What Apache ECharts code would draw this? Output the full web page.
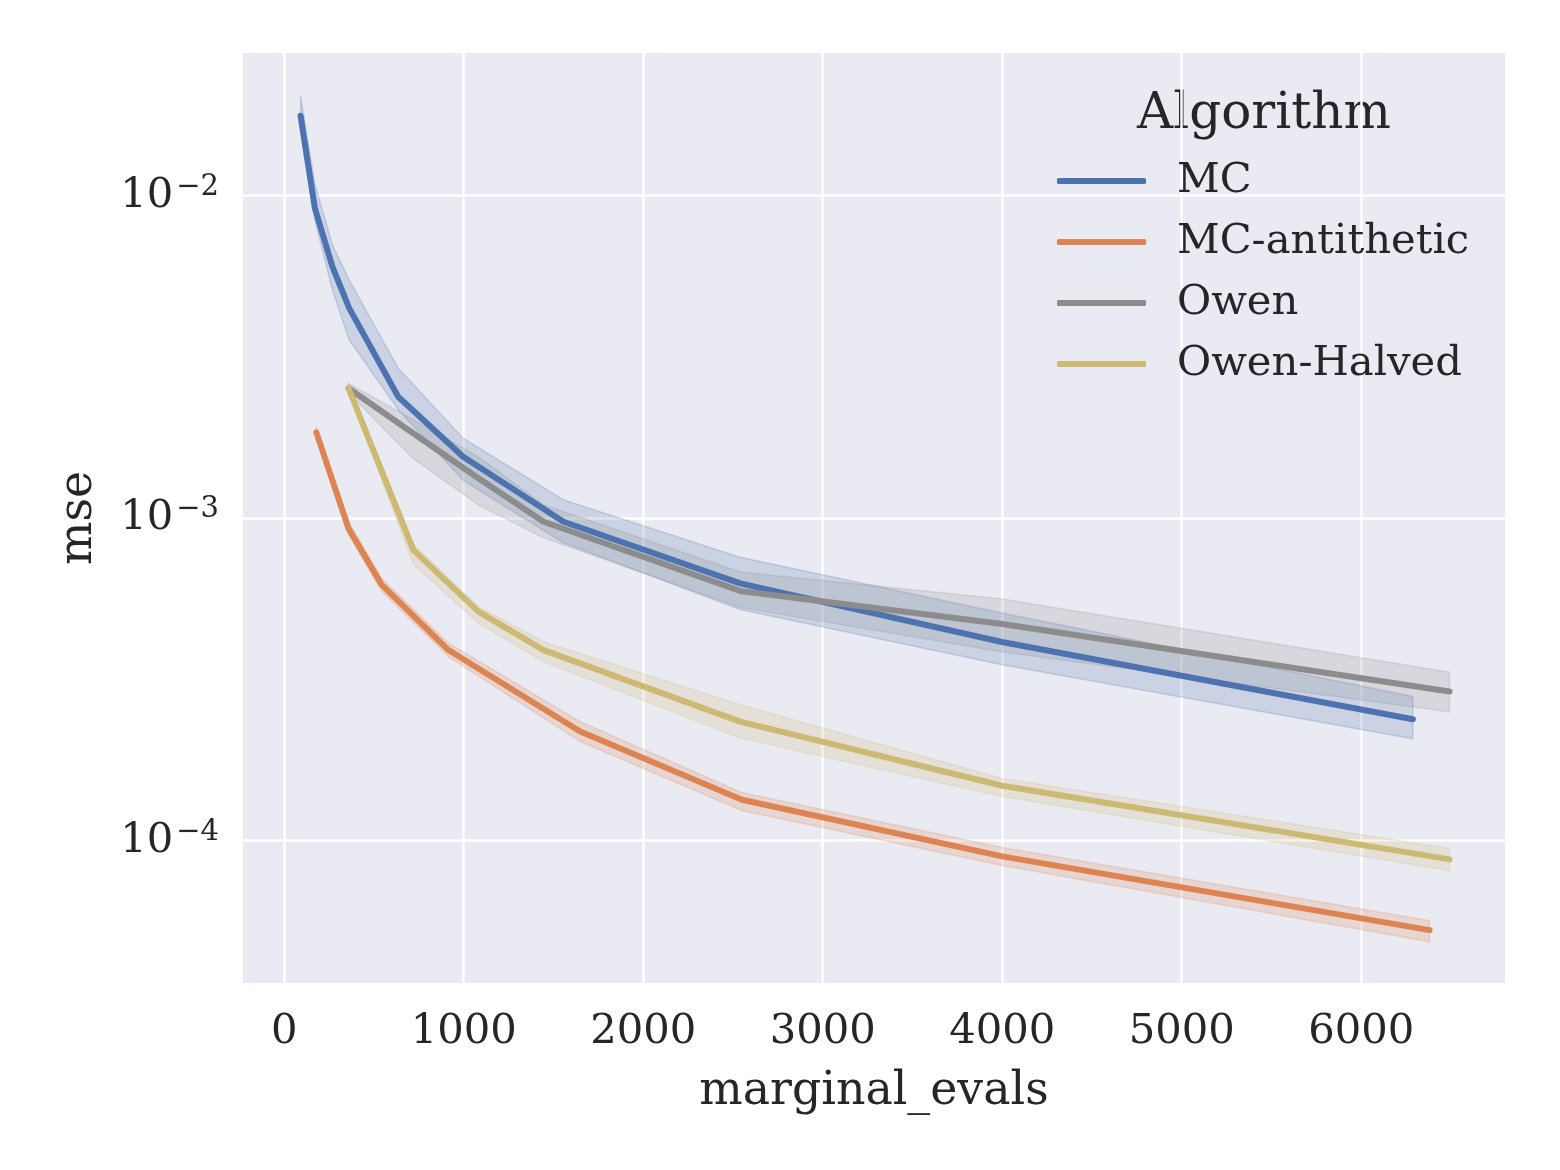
<!DOCTYPE html>
<html>
<head>
<meta charset="utf-8">
<script src="https://cdn.jsdelivr.net/npm/echarts@6/dist/echarts.min.js"></script>
<style>
  html, body { margin: 0; padding: 0; background: #fff; }
  #chart { width: 1560px; height: 1170px; }
</style>
</head>
<body>
<div id="chart"></div>
<script>
// series names and colours (seaborn "deep")
var algorithms = ['MC', 'MC-antithetic', 'Owen', 'Owen-Halved'];
var colors = ['#4C72B0', '#DD8452', '#8C8C8C', '#CCB974'];

// MC
var mcX = [91, 171, 269, 362, 635, 997, 1556, 2540, 3999, 6288];
var mcY = [0.0177, 0.00914, 0.00602, 0.00448, 0.00238, 0.00155, 0.000975, 0.000628, 0.000413, 0.000238];
var mcLo = [0.0166, 0.0084, 0.0051, 0.00357, 0.00217, 0.00131, 0.000838, 0.000521, 0.000351, 0.000207];
var mcHi = [0.0204, 0.0109, 0.00703, 0.00548, 0.00292, 0.00177, 0.00114, 0.000757, 0.000508, 0.00028];

// MC-antithetic
var antiX = [179, 358, 544, 915, 1649, 2550, 4000, 6381];
var antiY = [0.001845, 0.000931, 0.000621, 0.00039, 0.000218, 0.000134, 0.0000894, 0.0000528];
var antiLo = [0.00178, 0.000889, 0.000593, 0.000372, 0.000203, 0.000124, 0.0000838, 0.0000486];
var antiHi = [0.00192, 0.000975, 0.00065, 0.00041, 0.000234, 0.000141, 0.0000953, 0.0000565];

// Owen
var owenX = [358, 720, 1082, 1445, 2540, 4000, 6492];
var owenY = [0.00253, 0.00183, 0.00133, 0.000975, 0.000595, 0.00047, 0.00029];
var owenLo = [0.00245, 0.00153, 0.0011, 0.000869, 0.000529, 0.000385, 0.000251];
var owenHi = [0.00262, 0.00202, 0.00155, 0.0011, 0.000681, 0.000562, 0.000333];

// Owen-Halved
var halfX = [358, 720, 1082, 1445, 2540, 4000, 6492];
var halfY = [0.00253, 0.000796, 0.000513, 0.00039, 0.000234, 0.000148, 0.0000875];
var halfLo = [0.00246, 0.00072, 0.000472, 0.000359, 0.000208, 0.000137, 0.0000807];
var halfHi = [0.0026, 0.00083, 0.000532, 0.000414, 0.000264, 0.000156, 0.0000946];

// axis limits
var xMin = -229.5, xMax = 6801;
var yMin = 3.62e-5, yMax = 0.0277;

var FONT = 'DejaVu Serif';
var INK = '#262626';

function rgba(hex, a) {
  var n = parseInt(hex.slice(1), 16);
  return 'rgba(' + (n >> 16) + ',' + ((n >> 8) & 255) + ',' + (n & 255) + ',' + a + ')';
}

function lineSeries(name, xs, ys, color) {
  return {
    name: name,
    type: 'line',
    z: 3,
    showSymbol: false,
    symbol: 'none',
    silent: true,
    animation: false,
    data: xs.map(function (x, i) { return [x, ys[i]]; }),
    lineStyle: { color: color, width: 6, cap: 'round', join: 'round' },
    itemStyle: { color: color }
  };
}

function bandSeries(name, xs, lo, hi, color) {
  return {
    name: name + ' band',
    type: 'custom',
    z: 2,
    silent: true,
    animation: false,
    clip: true,
    data: xs.map(function (x, i) { return [x, lo[i], hi[i]]; }),
    encode: { x: 0, y: [1, 2] },
    renderItem: function (params, api) {
      if (params.dataIndex !== 0) return;
      var pts = [];
      for (var i = 0; i < xs.length; i++) pts.push(api.coord([xs[i], hi[i]]));
      for (var j = xs.length - 1; j >= 0; j--) pts.push(api.coord([xs[j], lo[j]]));
      return {
        type: 'polygon',
        shape: { points: pts },
        style: { fill: rgba(color, 0.2), stroke: rgba(color, 0.22), lineWidth: 1.5 }
      };
    }
  };
}

var chart = echarts.init(document.getElementById('chart'));

var option = {
  backgroundColor: '#ffffff',
  animation: false,
  textStyle: { fontFamily: FONT, color: INK },
  grid: {
    left: 243, right: 55, top: 53, bottom: 187,
    show: true, backgroundColor: '#EAEAF2', borderWidth: 0
  },
  graphic: [{
    type: 'text',
    x: 1264, y: 115,
    style: {
      text: 'Algorithm', fill: INK,
      font: '50px "DejaVu Serif"',
      textAlign: 'center', textVerticalAlign: 'middle',
      align: 'center', verticalAlign: 'middle'
    }
  }],
  legend: {
    data: algorithms,
    orient: 'vertical',
    left: 1057, top: 160,
    padding: 0,
    itemGap: 19,
    itemWidth: 89, itemHeight: 6,
    icon: 'roundRect',
    selectedMode: false,
    textStyle: {
      fontFamily: FONT, fontSize: 41.7, color: INK,
      lineHeight: 40, padding: [0, 0, 0, 26]
    }
  },
  xAxis: {
    type: 'value',
    min: xMin, max: xMax,
    splitNumber: 7,
    name: 'marginal_evals',
    nameLocation: 'middle',
    nameGap: 86,
    nameTextStyle: { fontFamily: FONT, fontSize: 45.8, color: INK },
    axisLine: { show: false },
    axisTick: { show: false },
    splitLine: { show: true, showMinLine: false, showMaxLine: false, lineStyle: { color: '#ffffff', width: 2.5 } },
    axisLabel: {
      margin: 28, fontFamily: FONT, fontSize: 41.7, color: INK,
      showMinLabel: false, showMaxLabel: false,
      formatter: function (v) { return String(Math.round(v)); }
    }
  },
  yAxis: {
    type: 'log',
    logBase: 10,
    min: yMin, max: yMax,
    name: 'mse',
    nameLocation: 'middle',
    nameGap: 141,
    nameTextStyle: { fontFamily: FONT, fontSize: 45.8, color: INK },
    axisLine: { show: false },
    axisTick: { show: false },
    minorTick: { show: false },
    splitLine: { show: true, showMinLine: false, showMaxLine: false, lineStyle: { color: '#ffffff', width: 2.5 } },
    axisLabel: {
      margin: 24,
      showMinLabel: false, showMaxLabel: false,
      formatter: function (v) {
        var l = Math.log10(v), e = Math.round(l);
        if (Math.abs(l - e) > 1e-6) return '';
        return '{b|10}{s|' + (e < 0 ? '\u2212' + (-e) : e) + '}';
      },
      rich: {
        b: { fontFamily: FONT, fontSize: 41.7, color: INK, lineHeight: 46 },
        s: { fontFamily: FONT, fontSize: 29, color: INK, lineHeight: 30, verticalAlign: 'top', padding: [0, 0, 0, 3] }
      }
    }
  },
  series: [
    bandSeries(algorithms[0], mcX, mcLo, mcHi, colors[0]),
    bandSeries(algorithms[1], antiX, antiLo, antiHi, colors[1]),
    bandSeries(algorithms[2], owenX, owenLo, owenHi, colors[2]),
    bandSeries(algorithms[3], halfX, halfLo, halfHi, colors[3]),
    lineSeries(algorithms[0], mcX, mcY, colors[0]),
    lineSeries(algorithms[1], antiX, antiY, colors[1]),
    lineSeries(algorithms[2], owenX, owenY, colors[2]),
    lineSeries(algorithms[3], halfX, halfY, colors[3])
  ]
};

chart.setOption(option);
</script>
</body>
</html>
